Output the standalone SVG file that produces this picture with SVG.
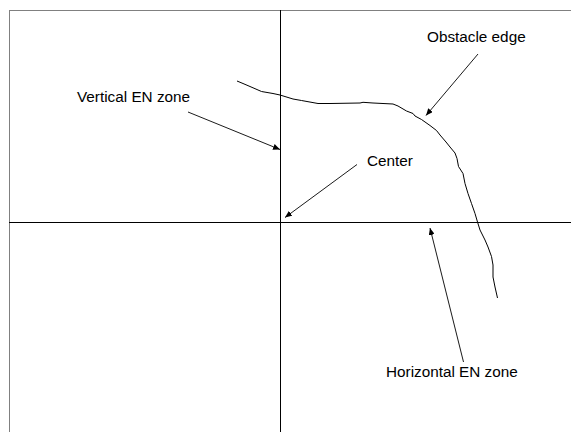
<svg xmlns="http://www.w3.org/2000/svg" width="571" height="432" viewBox="0 0 571 432">
<style>
.lbl{font-family:"Liberation Sans",Arial,sans-serif;font-size:15.3px;fill:#000}
.ax{stroke:#000;stroke-width:1;fill:none}
.con{stroke:#000;stroke-width:0.9;fill:none;marker-end:url(#ah)}
</style>
<defs>
<marker id="ah" markerWidth="8" markerHeight="6" refX="7" refY="3" orient="auto" markerUnits="userSpaceOnUse">
<path d="M0,0 L7,3 L0,6 Z" fill="#000"/>
</marker>
</defs>
<rect x="0" y="0" width="571" height="432" fill="#fff"/>
<g id="frame">
<rect x="9.5" y="10.5" width="600" height="500" fill="none" stroke="#808080" stroke-width="1"/>
</g>
<g id="axes">
<line class="ax" x1="280.5" y1="10" x2="280.5" y2="432"/>
<line class="ax" x1="9" y1="222.5" x2="571" y2="222.5"/>
</g>
<g id="obstacle">
<path class="ax" d="M237,81 L243,83.5 L250,86.5 L261.5,91.5 L273,93.5 L280,95 L293,99 L301.5,100.5 L318,103.5 L330,103.5 L360,103 L363,102.3 L373,103 L393,104 L398,106 L406.5,111 L413,113.5 L415,116 L421.5,119.5 L430,125.5 L436.5,130.5 L440,135 L446,142 L450,147 L455,153 L457,158.5 L458.5,166.5 L463,173.5 L465,183.5 L468,193.5 L471.5,203.5 L475,213.5 L477.5,222 L480,230 L485,240 L488,247 L491.5,256.5 L493,265 L493,277 L495,287 L497.5,298"/>
</g>
<g id="connectors">
<line class="con" x1="188" y1="112" x2="280" y2="149.5"/>
<line class="con" x1="357" y1="164.5" x2="285" y2="217.5"/>
<line class="con" x1="478" y1="54" x2="426" y2="115.5"/>
<line class="con" x1="463.5" y1="362" x2="430" y2="228"/>
</g>
<g id="label-vertical"><text class="lbl" x="77" y="102">Vertical EN zone</text></g>
<g id="label-obstacle"><text class="lbl" x="427" y="42">Obstacle edge</text></g>
<g id="label-center"><text class="lbl" x="367" y="166">Center</text></g>
<g id="label-horizontal"><text class="lbl" x="386" y="377">Horizontal EN zone</text></g>
</svg>
